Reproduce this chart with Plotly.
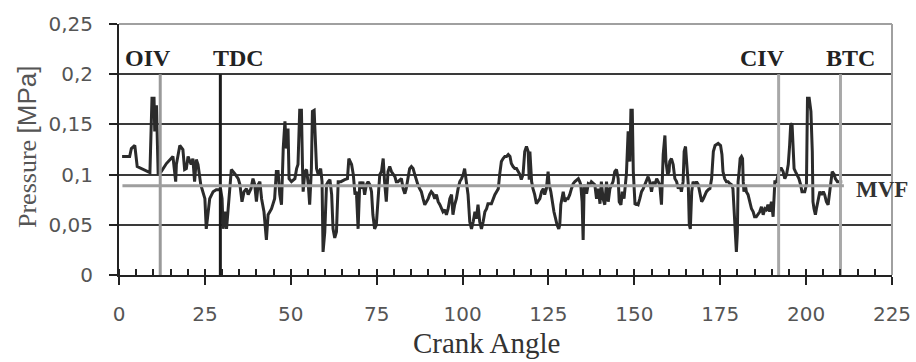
import plotly.graph_objects as go

# ---- data ----
crank_angle = [
    0.9, 3.1, 3.6, 4.6, 5.3, 8.5, 9.0, 9.6, 10.2, 10.4, 10.9, 11.4, 12.3, 13.8, 14.8, 15.7, 16.5, 16.7,
    17.7, 18.6, 19.1, 19.6, 20.1, 21.0, 21.5, 22.0, 22.5, 23.0, 23.8, 24.2, 25.0, 25.4, 25.9, 26.4,
    27.4, 28.3, 29.6, 30.0, 30.3, 30.8, 31.3, 31.8, 32.2, 32.7, 33.7, 34.7,
    35.2, 35.8, 36.4, 37.1, 37.6, 38.4, 39.0, 39.5, 40.0, 40.5, 41.0, 41.5, 42.2, 42.6, 42.9, 43.4,
    44.4, 45.3, 45.8, 46.3, 46.8, 47.3, 47.8, 48.3, 48.7, 49.2, 49.5, 50.2, 51.2, 51.7, 52.1, 52.6,
    53.1, 53.4, 53.6, 54.1, 54.6, 55.1, 55.5, 56.0, 56.3, 56.8, 57.2, 57.5, 58.0, 58.7, 59.1, 59.4,
    59.9, 60.4, 60.9, 61.4, 61.9, 62.3, 62.8, 63.3, 63.8, 64.6, 65.7, 66.5, 66.9, 67.7, 68.2, 68.7,
    69.1, 69.6, 70.1, 70.5, 71.0, 71.5, 72.0, 72.5, 73.0, 73.5, 73.9, 74.4, 74.9, 75.4, 75.9, 76.4,
    76.9, 77.3, 77.8, 78.3, 78.8, 79.3, 79.8, 80.3, 80.7, 81.2, 82.2, 82.7, 83.2, 83.6, 84.1, 84.6,
    85.1, 85.6, 86.1, 86.6, 87.0, 87.5, 88.0, 88.5, 89.0, 89.5, 90.0, 90.4, 90.9, 91.4, 91.9, 92.4,
    92.9, 93.4, 93.8, 94.3, 94.8, 95.3, 95.8, 96.3, 96.8, 97.2, 97.7, 98.2, 98.7, 99.2, 99.7, 100.2,
    100.6, 101.1, 101.6, 102.1, 102.6, 103.1, 103.6,
    104.0, 104.5, 105.0, 105.5, 106.0, 106.5, 107.0, 107.4, 108.4, 108.9, 109.4, 109.9, 110.4, 110.8,
    111.3, 111.8, 112.3, 112.8, 113.3, 113.8, 114.2, 114.7, 115.2, 115.7, 116.2, 116.7, 117.1, 117.6,
    118.1, 118.6, 119.1, 119.4, 119.6, 120.1, 120.5, 121.0, 121.5, 122.0, 122.5, 123.0, 123.5, 123.9,
    124.4, 124.9, 125.2, 125.7, 126.1, 126.6, 127.1, 127.5, 128.0, 128.3, 128.6, 129.0, 129.3, 129.8,
    130.2, 130.7, 131.2, 131.7, 132.2, 132.7, 133.2, 133.7, 134.1, 134.4, 134.8, 135.1, 135.4, 135.8,
    136.1, 136.6, 137.1, 137.5, 138.0, 138.5,
    139.0, 139.5, 140.0, 140.4, 140.9, 141.4, 141.9, 142.4, 142.9, 143.4, 143.8, 144.3, 144.8, 145.3,
    145.6, 146.1, 146.5, 147.0, 147.4, 147.7, 148.2, 148.7, 149.0, 149.4, 149.7, 150.0, 150.2, 150.6,
    151.1, 151.6, 152.1, 152.6, 153.1, 153.5, 154.0, 154.5, 155.0, 155.5, 156.0, 156.5, 156.9, 157.4,
    157.9, 158.2, 158.4, 158.9, 159.2, 159.7, 160.1, 160.3, 160.8, 161.3, 161.8, 162.3, 162.8, 163.3,
    163.7, 164.2, 164.5, 164.9, 165.2, 165.7, 166.0, 166.3, 166.7, 167.1, 167.6, 168.1, 168.6, 169.1,
    169.6, 170.1, 170.5, 171.0, 171.5, 172.0, 172.5, 173.0, 173.5, 174.4,
    175.1, 175.5, 175.8, 176.3, 176.8, 177.3, 177.8, 178.3, 178.7, 179.0, 179.4, 179.7, 180.0, 180.2,
    180.5, 180.8, 181.2, 181.5, 181.7, 181.9, 182.3, 182.6, 183.1, 183.6, 184.1, 184.6, 185.0, 185.5,
    186.0, 186.5, 187.0, 187.5, 188.0, 188.4, 188.9, 189.4, 189.9, 190.4, 190.9, 191.4, 192.3, 192.8,
    193.3, 193.8, 194.3, 194.8, 195.2, 195.5, 195.9, 196.2, 196.5, 196.9, 197.4, 197.9, 198.4, 198.8,
    199.1, 199.6, 200.1, 200.4, 200.9, 201.4, 201.8, 202.0, 202.3, 202.7, 203.0, 203.5, 204.0, 204.5,
    205.0, 205.4, 205.9, 206.4, 206.9, 207.2, 207.6, 208.2, 208.5, 209.1, 210.5,
]
pressure = [
    0.118, 0.118, 0.126, 0.129, 0.108, 0.103, 0.102, 0.176, 0.176, 0.143, 0.169, 0.100, 0.103, 0.111, 0.115, 0.118, 0.093, 0.110,
    0.129, 0.125, 0.105, 0.106, 0.118, 0.110, 0.116, 0.093, 0.115, 0.110, 0.090, 0.086, 0.076, 0.046, 0.063, 0.076,
    0.083, 0.085, 0.085, 0.076, 0.046, 0.063, 0.046, 0.070, 0.090, 0.105, 0.101, 0.096,
    0.090, 0.073, 0.083, 0.086, 0.080, 0.086, 0.096, 0.090, 0.073, 0.090, 0.093, 0.076, 0.063, 0.050, 0.035, 0.060,
    0.066, 0.076, 0.103, 0.103, 0.080, 0.070, 0.126, 0.153, 0.126, 0.146, 0.096, 0.093, 0.096, 0.106, 0.110, 0.164,
    0.164, 0.110, 0.083, 0.103, 0.105, 0.090, 0.070, 0.106, 0.163, 0.164, 0.123, 0.106, 0.100, 0.106, 0.093, 0.023,
    0.043, 0.090, 0.093, 0.095, 0.080, 0.046, 0.037, 0.043, 0.093, 0.093, 0.095, 0.096, 0.116, 0.110, 0.100, 0.080,
    0.083, 0.046, 0.093, 0.086, 0.093, 0.080, 0.090, 0.093, 0.090, 0.083, 0.060, 0.046, 0.050, 0.073, 0.100, 0.103,
    0.116, 0.093, 0.073, 0.103, 0.108, 0.103, 0.100, 0.098, 0.093, 0.093, 0.096, 0.086, 0.081, 0.086, 0.096, 0.106,
    0.108, 0.106, 0.100, 0.093, 0.090, 0.086, 0.083, 0.076, 0.070, 0.073, 0.076, 0.080, 0.083, 0.081, 0.076, 0.080,
    0.073, 0.070, 0.066, 0.063, 0.065, 0.060, 0.066, 0.076, 0.080, 0.060, 0.070, 0.076, 0.086, 0.093, 0.096, 0.100,
    0.106, 0.093, 0.080, 0.053, 0.046, 0.053, 0.063,
    0.056, 0.070, 0.053, 0.046, 0.053, 0.063, 0.066, 0.071, 0.071, 0.076, 0.080, 0.083, 0.086, 0.100,
    0.113, 0.116, 0.118, 0.118, 0.120, 0.118, 0.111, 0.108, 0.106, 0.106, 0.103, 0.100, 0.095, 0.100,
    0.123, 0.128, 0.123, 0.095, 0.123, 0.093, 0.086, 0.080, 0.071, 0.073, 0.076, 0.083, 0.086, 0.080,
    0.086, 0.103, 0.090, 0.083, 0.073, 0.063, 0.056, 0.050, 0.046, 0.050, 0.070, 0.080, 0.083, 0.073,
    0.076, 0.076, 0.080, 0.086, 0.091, 0.093, 0.095, 0.096, 0.093, 0.090, 0.073, 0.035, 0.090, 0.086,
    0.081, 0.091, 0.090, 0.093, 0.091, 0.090,
    0.076, 0.086, 0.071, 0.093, 0.076, 0.070, 0.093, 0.073, 0.086, 0.090, 0.093, 0.103, 0.105, 0.096,
    0.073, 0.070, 0.083, 0.076, 0.090, 0.101, 0.143, 0.113, 0.164, 0.164, 0.103, 0.080, 0.070, 0.071,
    0.070, 0.076, 0.083, 0.086, 0.090, 0.093, 0.098, 0.093, 0.083, 0.093, 0.090, 0.096, 0.093, 0.090,
    0.070, 0.093, 0.120, 0.139, 0.113, 0.100, 0.103, 0.113, 0.116, 0.110, 0.096, 0.093, 0.086, 0.090,
    0.083, 0.093, 0.123, 0.128, 0.116, 0.090, 0.050, 0.046, 0.083, 0.093, 0.090, 0.093, 0.090, 0.083,
    0.073, 0.076, 0.080, 0.083, 0.085, 0.086, 0.096, 0.123, 0.129, 0.131,
    0.129, 0.120, 0.103, 0.096, 0.093, 0.093, 0.091, 0.090, 0.086, 0.066, 0.046, 0.023, 0.043, 0.093,
    0.103, 0.116, 0.118, 0.116, 0.093, 0.083, 0.090, 0.083, 0.080, 0.073, 0.066, 0.063, 0.058, 0.058,
    0.060, 0.063, 0.068, 0.060, 0.066, 0.065, 0.070, 0.063, 0.073, 0.058, 0.093, 0.093, 0.106, 0.106,
    0.103, 0.096, 0.100, 0.110, 0.129, 0.149, 0.151, 0.123, 0.106, 0.103, 0.100, 0.096, 0.090, 0.083,
    0.083, 0.083, 0.090, 0.176, 0.176, 0.163, 0.123, 0.073, 0.066, 0.060, 0.066, 0.076, 0.083, 0.080,
    0.083, 0.080, 0.073, 0.070, 0.083, 0.096, 0.103, 0.100, 0.096, 0.093, 0.093,
]

event_names = ["OIV", "TDC", "CIV", "BTC"]
event_angles = [12, 29.5, 192, 210]
event_colors = ["#9a9a9a", "#1a1a1a", "#a8a8a8", "#a8a8a8"]
event_top = 0.2
event_label_x = [8.4, 34.8, 187.4, 213]
event_label_y = 0.216

mvf_value = 0.089
mvf_range = [1, 211]
mvf_label_x = 222
mvf_label_y = 0.085

x_tick_vals = [0, 25, 50, 75, 100, 125, 150, 175, 200, 225]
x_tick_text = ["0", "25", "50", "75", "100", "125", "150", "175", "200", "225"]
y_tick_vals = [0, 0.05, 0.1, 0.15, 0.2, 0.25]
y_tick_text = ["0", "0,05", "0,1", "0,15", "0,2", "0,25"]

SERIF = "Liberation Serif"
SANS = "DejaVu Sans"

fig = go.Figure()

fig.add_trace(go.Scatter(
    x=crank_angle, y=pressure, mode="lines",
    line=dict(color="#2b2b2b", width=3), hoverinfo="skip", showlegend=False,
))

for a, c in zip(event_angles, event_colors):
    fig.add_trace(go.Scatter(
        x=[a, a], y=[0, event_top], mode="lines",
        line=dict(color=c, width=3), hoverinfo="skip", showlegend=False,
    ))

fig.add_trace(go.Scatter(
    x=mvf_range, y=[mvf_value, mvf_value], mode="lines",
    line=dict(color="#9e9e9e", width=3), hoverinfo="skip", showlegend=False,
))

annotations = []
for name, lx in zip(event_names, event_label_x):
    annotations.append(dict(
        x=lx, y=event_label_y, xref="x", yref="y", text=f"<b>{name}</b>",
        showarrow=False, xanchor="center", yanchor="middle",
        font=dict(family=SERIF, size=24, color="#222222"),
    ))
annotations.append(dict(
    x=mvf_label_x, y=mvf_label_y, xref="x", yref="y", text="<b>MVF</b>",
    showarrow=False, xanchor="center", yanchor="middle",
    font=dict(family=SERIF, size=23, color="#333333"),
))
annotations.append(dict(
    x=0.475, y=-0.272, xref="paper", yref="paper", text="Crank Angle",
    showarrow=False, xanchor="center", yanchor="middle",
    font=dict(family=SERIF, size=29, color="#333333"),
))
annotations.append(dict(
    x=-0.119, y=0.51, xref="paper", yref="paper",
    text='Pressure <span style="font-family:Liberation Sans">[MPa]</span>',
    showarrow=False, xanchor="center", yanchor="middle", textangle=-90,
    font=dict(family=SERIF, size=26, color="#555555"),
))

# grey plot-area border on top and right
border_shapes = [
    dict(type="line", xref="paper", yref="paper", x0=0, x1=1, y0=1, y1=1,
         line=dict(color="#a0a0a0", width=2)),
    dict(type="line", xref="paper", yref="paper", x0=1, x1=1, y0=0, y1=1,
         line=dict(color="#a0a0a0", width=2)),
]

fig.update_layout(
    width=916, height=362,
    margin=dict(l=119, r=24, t=24, b=87, autoexpand=False),
    paper_bgcolor="white", plot_bgcolor="white",
    annotations=annotations, shapes=border_shapes,
    xaxis=dict(
        range=[0, 225], tickvals=x_tick_vals, ticktext=x_tick_text,
        ticks="outside", ticklen=8, tickwidth=2, tickcolor="#222",
        showline=True, linecolor="#222", linewidth=2,
        showgrid=False, zeroline=False, automargin=False,
        minor=dict(dtick=5, tick0=0, ticks="inside", ticklen=6, tickwidth=1.5, tickcolor="#222", showgrid=False),
        tickfont=dict(family=SANS, size=20, color="#555555"),
        ticklabelstandoff=12,
    ),
    yaxis=dict(
        range=[0, 0.25], tickvals=y_tick_vals, ticktext=y_tick_text,
        ticks="outside", ticklen=8, tickwidth=2, tickcolor="#222",
        showline=True, linecolor="#222", linewidth=2,
        showgrid=True, gridcolor="#3a3a3a", gridwidth=2, zeroline=False, automargin=False,
        tickfont=dict(family=SANS, size=20, color="#555555"),
        ticklabelstandoff=12,
    ),
)

fig.write_html(
    "out.html",
    config={"displayModeBar": False},
    post_script="document.body.style.margin='0';document.body.style.overflow='hidden';",
)
